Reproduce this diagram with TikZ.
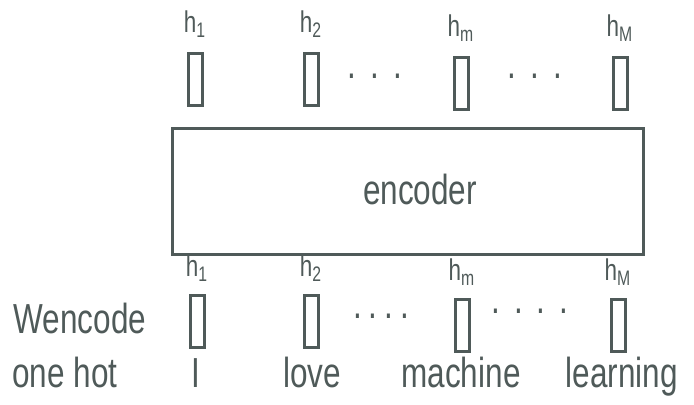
\documentclass[tikz,border=0pt]{standalone}
\usepackage{fontspec}
\setmainfont{Liberation Sans}[FakeStretch=0.75]
\usetikzlibrary{positioning}
\definecolor{ink}{HTML}{4F5A59}

\begin{document}
\begin{tikzpicture}[
  x=0.5pt, y=-0.5pt, color=ink,
  font=\fontsize{21}{24}\selectfont,
  vec/.style={draw, line width=1.5pt, minimum width=7pt, minimum height=26pt, inner sep=0pt},
  hlbl/.style={font=\fontsize{15}{17}\selectfont, inner sep=1pt},
  word/.style={inner sep=1pt, anchor=base},
  dots/.style={inner sep=0pt}
]
\useasboundingbox (0,0) rectangle (694,404);

% encoder block
\node[draw, line width=1.5pt, minimum width=235.5pt, minimum height=63pt, inner sep=0pt] (enc) at (407.5,191) {};
\node (enclbl) at (420,189) {encoder};

% output vectors above the encoder
\node[vec] (o1) at (195,79) {};
\node[vec] (o2) at (311,79) {};
\node[vec] (om) at (461,83) {};
\node[vec] (oM) at (620,83) {};
\node[hlbl, above=6pt of o1] (lo1) {h\textsubscript{1}};
\node[hlbl, above=6pt of o2] (lo2) {h\textsubscript{2}};
\node[hlbl, above=6pt of om] (lom) {h\textsubscript{m}};
\node[hlbl, above=6pt of oM] (loM) {h\textsubscript{M}};
\node[dots] (dA) at (375,76) {.\,\,.\,\,.};
\node[dots] (dB) at (535,76) {.\,\,.\,\,.};

% input vectors below the encoder
\node[vec] (i1) at (197,321) {};
\node[vec] (i2) at (311,321) {};
\node[vec] (im) at (462,325) {};
\node[vec] (iM) at (618,325) {};
\node[hlbl, above=5pt of i1] (li1) {h\textsubscript{1}};
\node[hlbl, above=5pt of i2] (li2) {h\textsubscript{2}};
\node[hlbl, above=5pt of im] (lim) {h\textsubscript{m}};
\node[hlbl, above=5pt of iM] (liM) {h\textsubscript{M}};
\node[dots] (dC) at (381,316) {.\,.\,.\,.};
\node[dots] (dD) at (530,311) {.\,\,.\,\,.\,\,.};

% row captions and words
\node (wenc) at (80,318) {Wencode};
\node[word] (onehot) at (65,387) {one hot};
\node[word] (wI) at (196,387) {I};
\node[word] (wlove) at (312,387) {love};
\node[word] (wmach) at (461,387) {machine};
\node[word] (wlearn) at (622,387) {learning};
\end{tikzpicture}
\end{document}
